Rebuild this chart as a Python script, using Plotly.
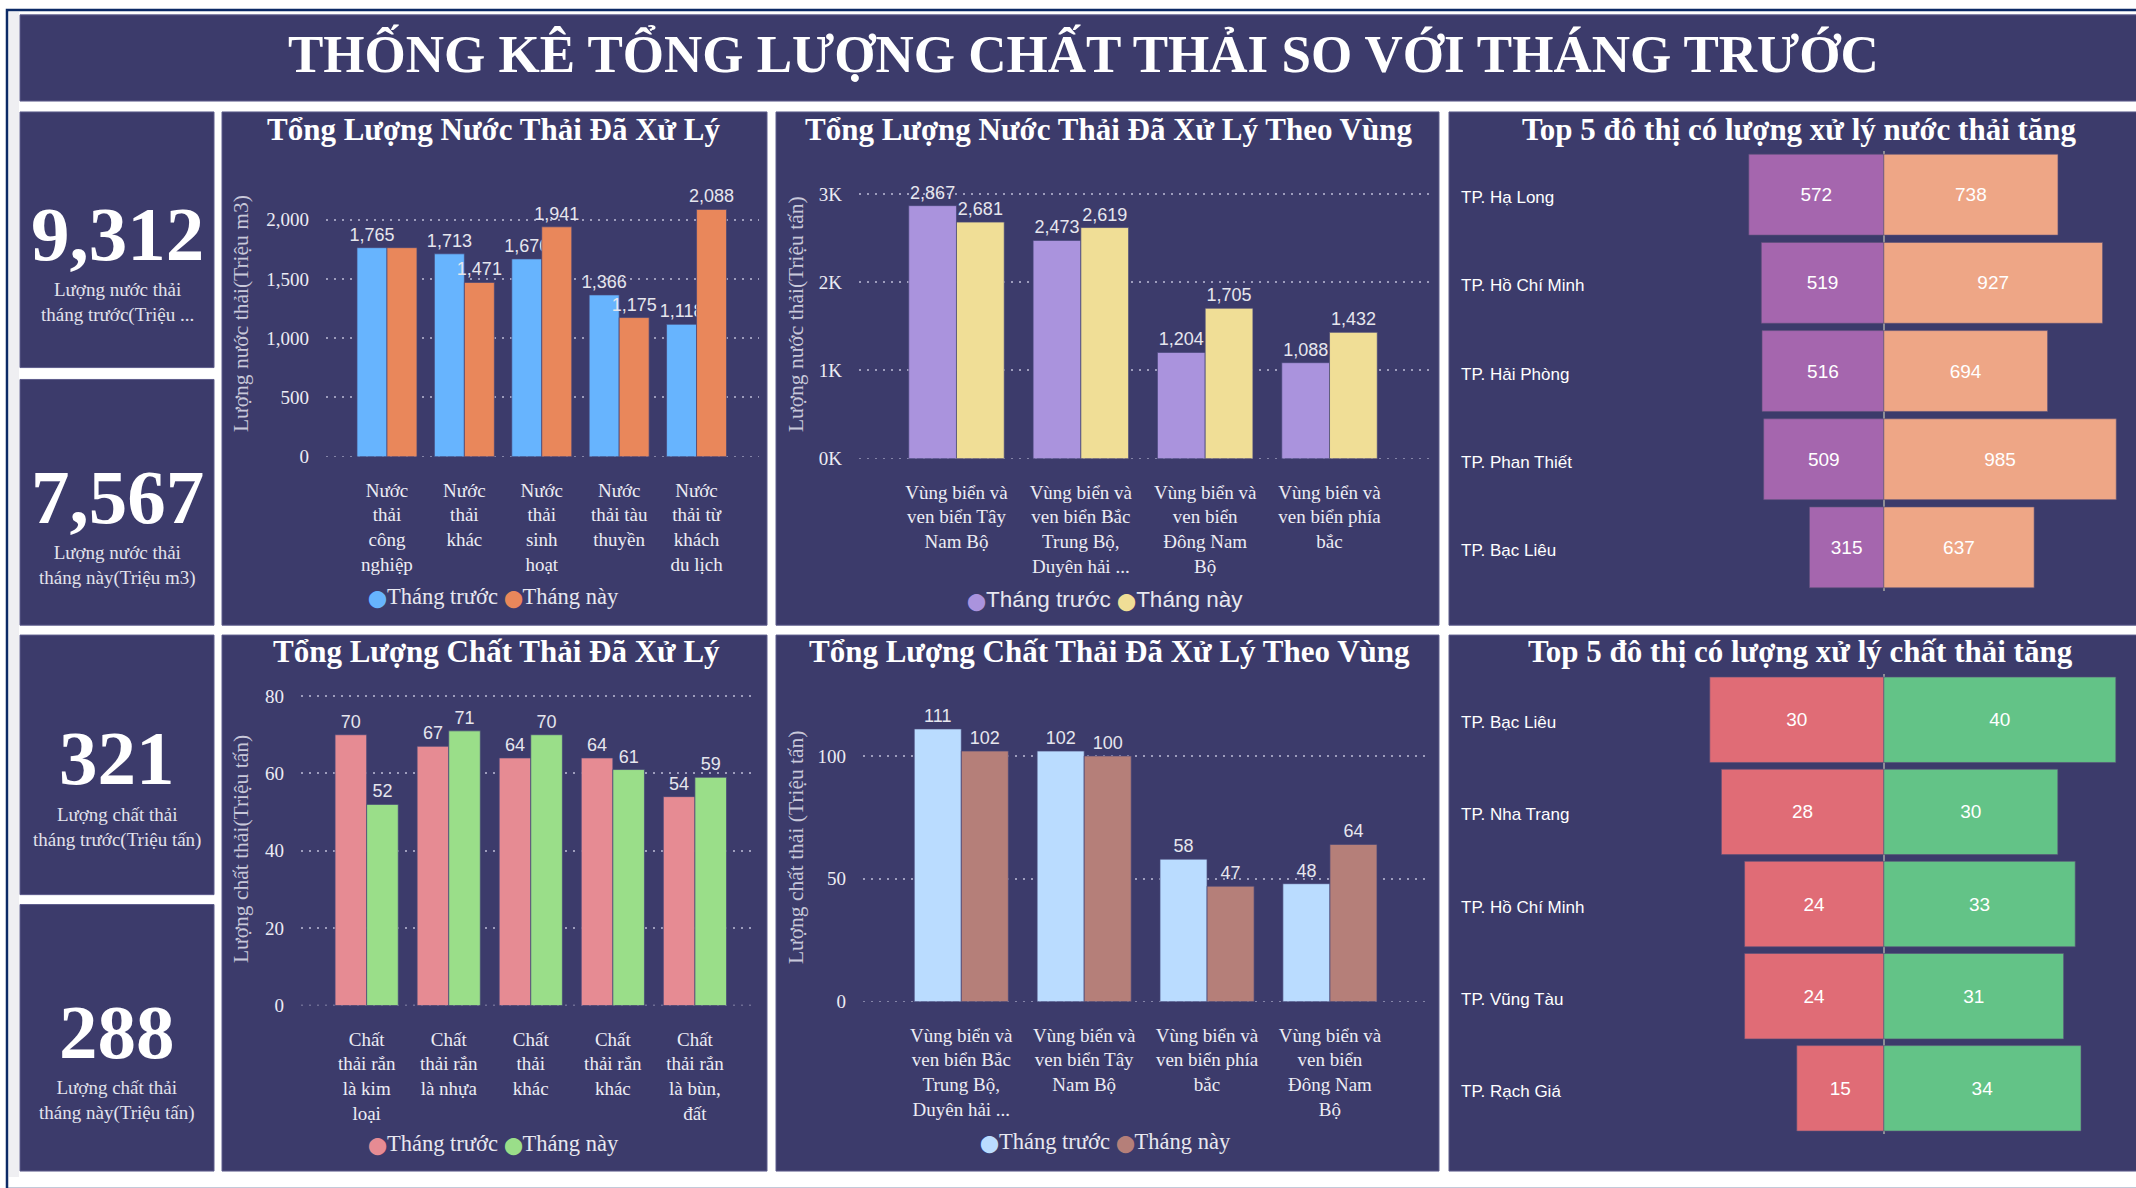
import plotly.graph_objects as go

W, H = 2136, 1188

# ------------------------------------------------------------------ data
main_title = "THỐNG KÊ TỔNG LƯỢNG CHẤT THẢI SO VỚI THÁNG TRƯỚC"
series_names = ["Tháng trước", "Tháng này"]

kpi_values = [9312, 7567, 321, 288]
kpi_labels = [
    "Lượng nước thải<br>tháng trước(Triệu ...",
    "Lượng nước thải<br>tháng này(Triệu m3)",
    "Lượng chất thải<br>tháng trước(Triệu tấn)",
    "Lượng chất thải<br>tháng này(Triệu tấn)",
]

chart_titles = [
    "Tổng Lượng Nước Thải Đã Xử Lý",
    "Tổng Lượng Nước Thải Đã Xử Lý Theo Vùng",
    "Top 5 đô thị có lượng xử lý nước thải tăng",
    "Tổng Lượng Chất Thải Đã Xử Lý",
    "Tổng Lượng Chất Thải Đã Xử Lý Theo Vùng",
    "Top 5 đô thị có lượng xử lý chất thải tăng",
]

# chart 1
water_types = ["Nước thải công nghiệp", "Nước thải khác", "Nước thải sinh hoạt",
               "Nước thải tàu thuyền", "Nước thải từ khách du lịch"]
water_type_ticklabels = ["Nước<br>thải<br>công<br>nghiệp", "Nước<br>thải<br>khác",
                         "Nước<br>thải<br>sinh<br>hoạt", "Nước<br>thải tàu<br>thuyền",
                         "Nước<br>thải từ<br>khách<br>du lịch"]
water_type_prev = [1765, 1713, 1670, 1366, 1118]
water_type_now = [1765, 1471, 1941, 1175, 2088]
water_type_now_hidden_labels = [0]
water_type_ytitle = "Lượng nước thải(Triệu m3)"

# chart 2
water_regions = ["Vùng biển và ven biển Tây Nam Bộ",
                 "Vùng biển và ven biển Bắc Trung Bộ, Duyên hải ...",
                 "Vùng biển và ven biển Đông Nam Bộ",
                 "Vùng biển và ven biển phía bắc"]
water_region_ticklabels = ["Vùng biển và<br>ven biển Tây<br>Nam Bộ",
                           "Vùng biển và<br>ven biển Bắc<br>Trung Bộ,<br>Duyên hải ...",
                           "Vùng biển và<br>ven biển<br>Đông Nam<br>Bộ",
                           "Vùng biển và<br>ven biển phía<br>bắc"]
water_region_prev = [2867, 2473, 1204, 1088]
water_region_now = [2681, 2619, 1705, 1432]
water_region_tickvals = [0, 1000, 2000, 3000]
water_region_ticktext = ["0K", "1K", "2K", "3K"]
water_region_ytitle = "Lượng nước thải(Triệu tấn)"

# chart 3
water_cities = ["TP. Hạ Long", "TP. Hồ Chí Minh", "TP. Hải Phòng", "TP. Phan Thiết", "TP. Bạc Liêu"]
water_city_prev = [572, 519, 516, 509, 315]
water_city_now = [738, 927, 694, 985, 637]

# chart 4
waste_types = ["Chất thải rắn là kim loại", "Chất thải rắn là nhựa", "Chất thải khác",
               "Chất thải rắn khác", "Chất thải rắn là bùn, đất"]
waste_type_ticklabels = ["Chất<br>thải rắn<br>là kim<br>loại", "Chất<br>thải rắn<br>là nhựa",
                         "Chất<br>thải<br>khác", "Chất<br>thải rắn<br>khác",
                         "Chất<br>thải rắn<br>là bùn,<br>đất"]
waste_type_prev = [70, 67, 64, 64, 54]
waste_type_now = [52, 71, 70, 61, 59]
waste_type_ytitle = "Lượng chất thải(Triệu tấn)"

# chart 5
waste_regions = ["Vùng biển và ven biển Bắc Trung Bộ, Duyên hải ...",
                 "Vùng biển và ven biển Tây Nam Bộ",
                 "Vùng biển và ven biển phía bắc",
                 "Vùng biển và ven biển Đông Nam Bộ"]
waste_region_ticklabels = ["Vùng biển và<br>ven biển Bắc<br>Trung Bộ,<br>Duyên hải ...",
                           "Vùng biển và<br>ven biển Tây<br>Nam Bộ",
                           "Vùng biển và<br>ven biển phía<br>bắc",
                           "Vùng biển và<br>ven biển<br>Đông Nam<br>Bộ"]
waste_region_prev = [111, 102, 58, 48]
waste_region_now = [102, 100, 47, 64]
waste_region_ytitle = "Lượng chất thải (Triệu tấn)"

# chart 6
waste_cities = ["TP. Bạc Liêu", "TP. Nha Trang", "TP. Hồ Chí Minh", "TP. Vũng Tàu", "TP. Rạch Giá"]
waste_city_prev = [30, 28, 24, 24, 15]
waste_city_now = [40, 30, 33, 31, 34]

# ------------------------------------------------------------------ style
PANEL = "#3c3b6b"
PANEL_EDGE = "#5d5c8c"
SERIF = "Liberation Serif, Times New Roman, serif"
SANS = "Liberation Sans, Arial, sans-serif"
TXT = "#ececf4"
AXT = "#c8c8da"
GRID = "rgba(190,190,215,0.75)"
GRIDDASH = "2px,6px"


def fx(p):
    return p / W


def fy(p):
    return 1 - p / H


fig = go.Figure()
shapes = []
annotations = []
layout_axes = {}

# outer frame
shapes.append(dict(type="rect", xref="paper", yref="paper", x0=fx(7), x1=fx(2150), y0=fy(1200), y1=fy(10),
                   line=dict(color="#0c2a66", width=2.5), fillcolor="white", layer="below"))
shapes.append(dict(type="rect", xref="paper", yref="paper", x0=fx(9), x1=fx(19), y0=fy(1188), y1=fy(12),
                   line=dict(width=0), fillcolor="#efeff2", layer="below"))

panels = [
    (20, 15, 2140, 102),
    (20, 113, 214, 371), (20, 383, 214, 631),
    (222, 113, 767, 631), (776, 113, 1439, 631), (1449, 113, 2140, 631),
    (20, 641, 214, 903), (20, 913, 214, 1182),
    (222, 641, 767, 1182), (776, 641, 1439, 1182), (1449, 641, 2140, 1182),
]
for x0, y0, x1, y1 in panels:
    shapes.append(dict(type="rect", xref="paper", yref="paper", x0=fx(x0), x1=fx(x1), y0=fy(y1), y1=fy(y0),
                       line=dict(color=PANEL_EDGE, width=1), fillcolor=PANEL, layer="below"))


def add_text(text, x, y, size, family=SERIF, color=TXT, bold=False, xanchor="center", angle=0):
    annotations.append(dict(
        text=text, x=fx(x), y=fy(y), xref="paper", yref="paper", xanchor=xanchor, yanchor="middle",
        showarrow=False, textangle=angle,
        font=dict(family=family, size=size, color=color, weight="bold" if bold else "normal")))


# main title
add_text(main_title, 1083, 54, 53, bold=True, color="white")

# KPI cards
kpi_num_y = [236, 502, 765, 1042]
kpi_lab_y = [305, 571, 835, 1111]
for v, lab, ny, ly in zip(kpi_values, kpi_labels, kpi_num_y, kpi_lab_y):
    add_text(f"{v:,}", 117, ny, 77, bold=True, color="white")
    add_text(lab, 117, ly, 19, color="#e2e2ec")

# chart titles
title_pos = [(494, 131), (1108, 131), (1799, 131), (496, 658), (1109, 658), (1800, 658)]
for t, (x, y) in zip(chart_titles, title_pos):
    add_text(t, x, y, 31, bold=True, color="white")


def legend(x, y, colors, family):
    parts = []
    for name, c in zip(series_names, colors):
        parts.append(f"<span style='color:{c};font-size:17px'>⬤</span>{name}")
    add_text(" ".join(parts), x, y, 22.5, family=family, color="#e8e8f0")


def vbar(idx, cats, ticks, prev, now, colors, xdom, ydom, xrange, yrange, w, ytitle, ytitle_pos,
         dtick=None, tickvals=None, ticktext=None, hidden_now=()):
    xa = "x" if idx == 1 else f"x{idx}"
    ya = "y" if idx == 1 else f"y{idx}"
    for vals, off, col, name, hidden in ((prev, -w, colors[0], series_names[0], ()),
                                         (now, 0, colors[1], series_names[1], hidden_now)):
        fig.add_trace(go.Bar(
            x=cats, y=vals, offset=off, width=w, name=name, xaxis=xa, yaxis=ya, showlegend=False,
            marker=dict(color=col, line=dict(color="rgba(70,70,120,0.7)", width=1)),
            text=["" if i in hidden else f"{v:,}" for i, v in enumerate(vals)],
            textposition="outside", cliponaxis=False, constraintext="none",
            textfont=dict(family=SANS, size=18, color="#e6e6ee")))
    layout_axes["xaxis" if idx == 1 else f"xaxis{idx}"] = dict(
        domain=[fx(xdom[0]), fx(xdom[1])], range=xrange, anchor=ya, type="category",
        categoryorder="array", categoryarray=cats, tickvals=cats, ticktext=ticks,
        showgrid=False, zeroline=False, showline=False, ticks="", ticklabelstandoff=20,
        tickfont=dict(family=SERIF, size=19, color=TXT), fixedrange=True)
    ydict = dict(
        domain=[fy(ydom[1]), fy(ydom[0])], range=yrange, anchor=xa, showline=False, zeroline=False,
        showgrid=True, gridcolor=GRID, griddash=GRIDDASH, gridwidth=1.5, ticks="", tickformat=",d",
        ticklabelstandoff=16, tickfont=dict(family=SERIF, size=19, color=TXT), fixedrange=True)
    if dtick is not None:
        ydict["dtick"] = dtick
    if tickvals is not None:
        ydict["tickvals"] = tickvals
        ydict["ticktext"] = ticktext
        ydict["tickmode"] = "array"
    layout_axes["yaxis" if idx == 1 else f"yaxis{idx}"] = ydict
    # dotted baseline gridline at the value 0 (plotly clips grid lines on the domain edge)
    shapes.append(dict(type="line", xref=f"{xa} domain", x0=0, x1=1, yref=ya, y0=0, y1=0,
                       line=dict(color=GRID, width=1.5, dash=GRIDDASH), layer="below"))
    add_text(ytitle, ytitle_pos[0], ytitle_pos[1], 21.5, color=AXT, angle=-90)


def hbar(idx, cities, prev, now, colors, xdom, ydom, xrange, bw):
    xa, ya = f"x{idx}", f"y{idx}"
    fig.add_trace(go.Bar(
        y=cities, x=[-v for v in prev], orientation="h", offset=-bw / 2, width=bw, name=series_names[0],
        xaxis=xa, yaxis=ya, showlegend=False,
        marker=dict(color=colors[0], line=dict(color="rgba(90,80,120,0.6)", width=1)),
        text=[str(v) for v in prev], textposition="inside", insidetextanchor="middle", textangle=0,
        textfont=dict(family=SANS, size=19, color="white")))
    fig.add_trace(go.Bar(
        y=cities, x=now, orientation="h", offset=-bw / 2, width=bw, name=series_names[1],
        xaxis=xa, yaxis=ya, showlegend=False,
        marker=dict(color=colors[1], line=dict(color="rgba(90,80,120,0.6)", width=1)),
        text=[str(v) for v in now], textposition="inside", insidetextanchor="middle", textangle=0,
        textfont=dict(family=SANS, size=19, color="white")))
    layout_axes[f"xaxis{idx}"] = dict(
        domain=[fx(xdom[0]), fx(xdom[1])], range=xrange, anchor=ya, showgrid=False, showticklabels=False,
        zeroline=True, zerolinecolor="#8e8e96", zerolinewidth=2, showline=False, ticks="", fixedrange=True)
    layout_axes[f"yaxis{idx}"] = dict(
        domain=[fy(ydom[1]), fy(ydom[0])], range=[len(cities) - 0.5, -0.5], anchor=xa, type="category",
        categoryorder="array", categoryarray=cities, showgrid=False, showticklabels=False, zeroline=False,
        showline=False, ticks="", fixedrange=True)
    for c in cities:
        annotations.append(dict(text=c, xref="paper", x=fx(1459), yref=ya, y=c, xanchor="left",
                                yanchor="middle", showarrow=False, yshift=-3,
                                font=dict(family=SANS, size=17, color="white")))


# chart 1
vbar(1, water_types, water_type_ticklabels, water_type_prev, water_type_now, ["#67b4fe", "#e9875b"],
     (326, 759), (186, 461), [-0.788, 4.807], [0, 2300], 0.3875, water_type_ytitle, (241, 317),
     dtick=500, hidden_now=water_type_now_hidden_labels)
legend(493, 602, ["#67b4fe", "#e9875b"], SERIF)

# chart 2
vbar(2, water_regions, water_region_ticklabels, water_region_prev, water_region_now, ["#aa93dd", "#f0de96"],
     (859, 1429), (169, 463), [-0.784, 3.80], [0, 3300], 0.384, water_region_ytitle, (796, 317),
     tickvals=water_region_tickvals, ticktext=water_region_ticktext)
legend(1105, 605, ["#aa93dd", "#f0de96"], SANS)

# chart 3
hbar(3, water_cities, water_city_prev, water_city_now, ["#a566ae", "#eea686"],
     (1640, 2128), (152, 597), [-(1883.8 - 1640) / 0.236, (2128 - 1883.8) / 0.236], 0.917)

# chart 4
vbar(4, waste_types, waste_type_ticklabels, waste_type_prev, waste_type_now, ["#e68b93", "#9ade89"],
     (301, 754), (683, 1015), [-0.8, 4.72], [0, 85], 0.385, waste_type_ytitle, (241, 857), dtick=20)
legend(493, 1154, ["#e68b93", "#9ade89"], SERIF)

# chart 5
vbar(5, waste_regions, waste_region_ticklabels, waste_region_prev, waste_region_now, ["#badcff", "#b57f79"],
     (863, 1427), (701, 1011), [-0.80, 3.79], [0, 125], 0.383, waste_region_ytitle, (796, 855), dtick=50)
legend(1105, 1152, ["#badcff", "#b57f79"], SERIF)

# chart 6
hbar(6, waste_cities, waste_city_prev, waste_city_now, ["#e06c76", "#63c387"],
     (1640, 2128), (680, 1145), [-(1883.8 - 1640) / 5.8, (2128 - 1883.8) / 5.8], 0.927)

fig.update_layout(
    width=W, height=H, margin=dict(l=0, r=0, t=0, b=0), autosize=False,
    paper_bgcolor="white", plot_bgcolor="rgba(0,0,0,0)", barmode="overlay", showlegend=False,
    shapes=shapes, annotations=annotations, **layout_axes,
)

fig.write_html("out.html", config={"displayModeBar": False},
               post_script="document.body.style.margin='0';document.body.style.overflow='hidden';")
